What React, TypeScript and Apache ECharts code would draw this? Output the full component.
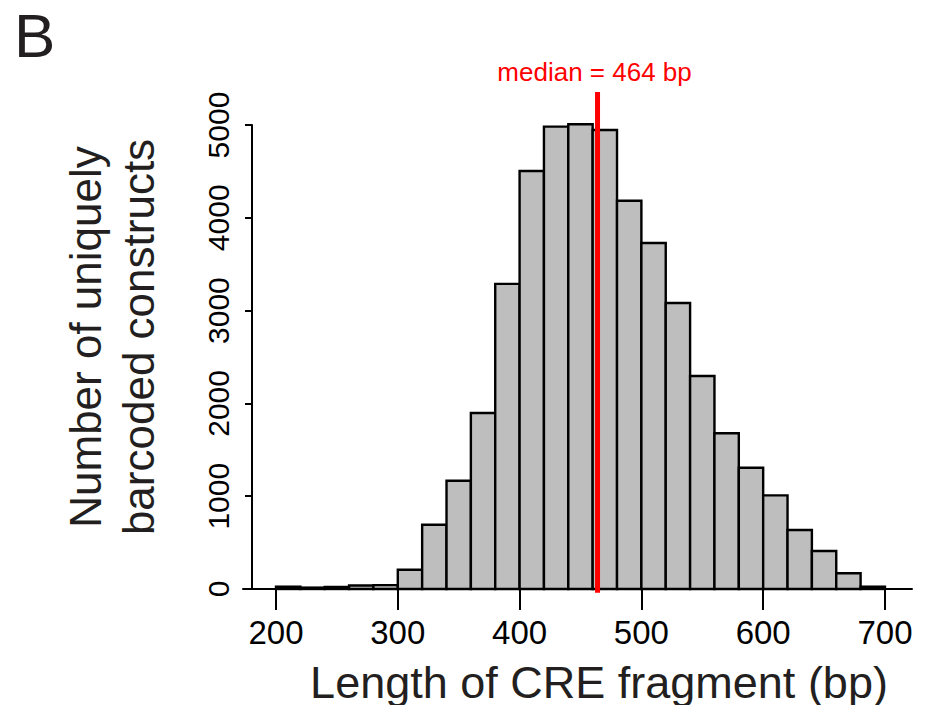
import React, { useEffect, useRef } from "react";
import * as echarts from "echarts";

// Histogram bins (bp) and counts
const binStarts = [200, 220, 240, 260, 280, 300, 320, 340, 360, 380, 400, 420, 440, 460, 480, 500, 520, 540, 560, 580, 600, 620, 640, 660, 680];
const binWidth = 20;
const counts = [25, 15, 22, 38, 42, 208, 693, 1167, 1897, 3288, 4504, 4982, 5008, 4946, 4184, 3728, 3082, 2295, 1678, 1307, 1009, 636, 409, 169, 25];
const xTicks = [200, 300, 400, 500, 600, 700];
const yTicks = [0, 1000, 2000, 3000, 4000, 5000];
const medianValue = 464;
const medianLineTop = 5356;
const medianLineBottom = -40;
const medianLabel = "median = 464 bp";
const xTitle = "Length of CRE fragment (bp)";
const yTitle = "Number of uniquely\nbarcoded constructs";
const panelLetter = "B";

const FONT = "'Liberation Sans', Arial, Helvetica, sans-serif";

export default function App() {
  const ref = useRef<HTMLDivElement>(null);
  useEffect(() => {
    if (!ref.current) return;
    const chart = echarts.init(ref.current, null, { renderer: "svg" });
    const histData = binStarts.map((s, i) => [s, s + binWidth, counts[i]]);
    chart.setOption({
      animation: false,
      backgroundColor: "#ffffff",
      grid: { left: 243, right: 23, top: 125, bottom: 124, containLabel: false },
      xAxis: {
        type: "value",
        min: 172.9,
        max: 722.2,
        splitLine: { show: false },
        axisLine: { show: true, lineStyle: { color: "#000", width: 2 } },
        axisTick: { show: true, length: 21, lineStyle: { color: "#000", width: 2 }, customValues: xTicks },
        axisLabel: { show: true, customValues: xTicks, fontSize: 33, color: "#000", fontFamily: FONT, margin: 27 },
      },
      yAxis: {
        type: "value",
        min: 0,
        max: 5000,
        interval: 1000,
        offset: -9,
        splitLine: { show: false },
        axisLine: { show: true, lineStyle: { color: "#000", width: 2 } },
        axisTick: { show: true, length: 7, lineStyle: { color: "#000", width: 2 }, customValues: yTicks },
        axisLabel: {
          show: true,
          customValues: yTicks,
          rotate: 90,
          fontSize: 30,
          color: "#000",
          fontFamily: FONT,
          margin: 19,
          formatter: (v: number) => String(v),
        },
      },
      series: [
        {
          type: "custom",
          data: histData,
          encode: { x: [0, 1], y: 2 },
          renderItem: (params: any, api: any) => {
            const p0 = api.coord([api.value(0), 0]);
            const p1 = api.coord([api.value(1), api.value(2)]);
            return {
              type: "rect",
              shape: { x: p0[0], y: p1[1], width: p1[0] - p0[0], height: p0[1] - p1[1] },
              style: { fill: "#bebebe", stroke: "#000", lineWidth: 2.4 },
            };
          },
        },
        {
          type: "custom",
          clip: false,
          data: [[medianValue, medianLineBottom, medianLineTop]],
          encode: { x: 0, y: [1, 2] },
          renderItem: (params: any, api: any) => {
            const a = api.coord([api.value(0), api.value(1)]);
            const b = api.coord([api.value(0), api.value(2)]);
            return {
              type: "group",
              children: [
                {
                  type: "line",
                  shape: { x1: a[0], y1: a[1], x2: b[0], y2: b[1] },
                  style: { stroke: "#ff0000", lineWidth: 5 },
                },
                {
                  type: "text",
                  x: b[0] - 3,
                  y: b[1] - 20,
                  style: {
                    text: medianLabel,
                    fill: "#ff0000",
                    fontSize: 26,
                    fontFamily: FONT,
                    align: "center",
                    verticalAlign: "middle",
                  },
                },
              ],
            };
          },
        },
      ],
      graphic: [
        {
          type: "text",
          left: 14,
          top: 4,
          style: { text: panelLetter, fontSize: 62, fill: "#231f20", fontFamily: FONT },
        },
        {
          type: "text",
          x: 599,
          y: 682,
          style: { text: xTitle, fontSize: 45, fill: "#231f20", fontFamily: FONT, align: "center", verticalAlign: "middle" },
        },
        {
          type: "text",
          x: 112,
          y: 337,
          rotation: Math.PI / 2,
          style: {
            text: yTitle,
            fontSize: 44,
            lineHeight: 53,
            fill: "#231f20",
            fontFamily: FONT,
            align: "center",
            verticalAlign: "middle",
          },
        },
      ],
    });
    return () => chart.dispose();
  }, []);
  return <div ref={ref} style={{ width: 935, height: 713, margin: -8 }} />;
}
